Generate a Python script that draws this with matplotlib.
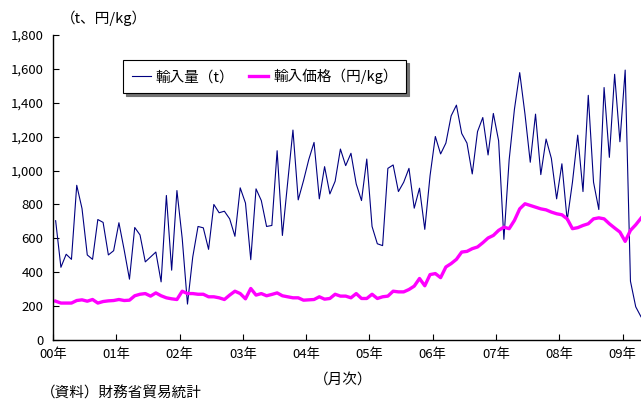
import matplotlib
matplotlib.use('Agg')
import matplotlib.pyplot as plt
from matplotlib.ticker import FuncFormatter

plt.rcParams['font.family'] = ['Noto Sans CJK JP', 'DejaVu Sans']

# monthly, Jan 2000 - Apr 2009
volume = [704, 429, 506, 476, 913, 776, 502, 476, 711, 694, 502, 527,
          692, 531, 359, 664, 620, 461, 490, 519, 343, 853, 412, 882,
          600, 212, 490, 670, 662, 535, 800, 751, 760, 715, 612, 898,
          808, 474, 892, 823, 670, 676, 1117, 617, 930, 1239, 827, 940,
          1065, 1166, 833, 1023, 862, 937, 1127, 1029, 1102, 921, 823, 1068,
          670, 568, 557, 1013, 1033, 876, 931, 1013, 778, 896, 653, 970,
          1201, 1098, 1162, 1323, 1386, 1219, 1162, 980, 1230, 1313, 1092, 1337,
          1176, 594, 1064, 1362, 1578, 1333, 1049, 1333, 976, 1186, 1072, 833,
          1040, 706, 931, 1209, 876, 1444, 931, 770, 1490, 1078, 1568, 1170,
          1593, 347, 196, 137]
price = [229, 218, 218, 218, 233, 237, 229, 239, 218, 227, 231, 233,
         239, 233, 235, 261, 270, 274, 259, 278, 261, 249, 243, 239,
         288, 274, 274, 270, 270, 255, 255, 249, 239, 265, 288, 274,
         243, 304, 265, 274, 261, 269, 278, 261, 255, 249, 249, 235,
         237, 239, 255, 241, 245, 270, 259, 259, 249, 274, 245, 245,
         270, 245, 255, 259, 288, 284, 284, 298, 318, 363, 320, 386,
         392, 368, 431, 451, 476, 519, 523, 539, 549, 574, 602, 617,
         647, 666, 657, 706, 774, 804, 794, 784, 774, 768, 755, 745,
         739, 715, 657, 663, 676, 686, 715, 721, 715, 686, 661, 637,
         582, 647, 680, 719]
year_labels = ['00年', '01年', '02年', '03年', '04年', '05年', '06年', '07年', '08年', '09年']

fig = plt.figure(figsize=(6.41, 4.01), dpi=100)
ax = fig.add_axes([53/641, 61/401, 588/641, 305/401])

x = [i + 0.5 for i in range(len(volume))]
ax.plot(x, volume, color='#000080', linewidth=0.8, label='輸入量（t）')
ax.plot(x, price, color='#FF00FF', linewidth=2.4, label='輸入価格（円/kg）')

ax.set_xlim(0, 111.5)
ax.set_ylim(0, 1800)
ax.set_yticks(range(0, 1801, 200))
ax.yaxis.set_major_formatter(FuncFormatter(lambda v, p: '{:,}'.format(int(v))))
ax.set_xticks([12 * k for k in range(len(year_labels))])
ax.set_xticklabels(year_labels)
ax.tick_params(direction='in', length=4, width=0.8, labelsize=9.5, colors='black')
ax.tick_params(axis='y', pad=7)
ax.tick_params(axis='x', pad=6)
ax.spines['top'].set_visible(False)
ax.spines['right'].set_visible(False)
for s in ['left', 'bottom']:
    ax.spines[s].set_linewidth(1.0)
    ax.spines[s].set_color('black')

leg = ax.legend(loc='upper left', bbox_to_anchor=(123/641, 1 - 60/401),
                bbox_transform=fig.transFigure, borderaxespad=0, ncol=2, fontsize=10.5,
                frameon=True, fancybox=False, handlelength=1.3, handletextpad=0.35,
                columnspacing=1.0, borderpad=0.6,
                shadow={'ox': 2, 'oy': -2, 'facecolor': '0.45', 'edgecolor': '0.45', 'alpha': 1})
leg.get_frame().set_edgecolor('black')
leg.get_frame().set_linewidth(0.8)

fig.text(61/641, 1 - 18/401, '（t、円/kg）', fontsize=10.5, ha='left', va='center')
fig.text(343/641, 1 - 381/401, '（月次）', fontsize=10.5, ha='center', va='center')
fig.text(41/641, 1 - 394/401, '（資料）財務省貿易統計', fontsize=10.5, ha='left', va='center')

fig.savefig('out.png', dpi=100)
